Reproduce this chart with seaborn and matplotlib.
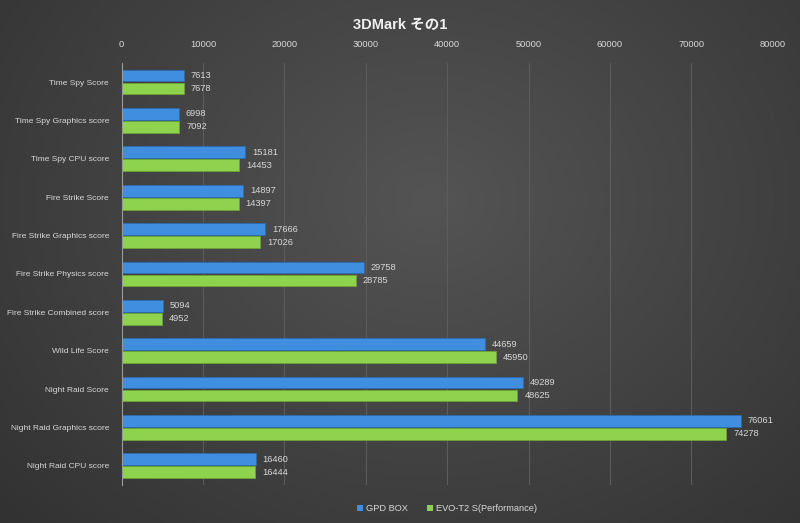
import numpy as np
import pandas as pd
import matplotlib
matplotlib.use("Agg")
import matplotlib.pyplot as plt
import seaborn as sns

categories = [
    "Time Spy Score", "Time Spy Graphics score", "Time Spy CPU score",
    "Fire Strike Score", "Fire Strike Graphics score", "Fire Strike Physics score",
    "Fire Strike Combined score", "Wild Life Score", "Night Raid Score",
    "Night Raid Graphics score", "Night Raid CPU score",
]
gpd_box = [7613, 6998, 15181, 14897, 17666, 29758, 5094, 44659, 49289, 76061, 16460]
evo_t2 = [7678, 7092, 14453, 14397, 17026, 28785, 4952, 45950, 48625, 74278, 16444]
series_names = ["GPD BOX", "EVO-T2 S(Performance)"]
x_ticks = [0, 10000, 20000, 30000, 40000, 50000, 60000, 70000, 80000]

df = pd.DataFrame({
    "category": categories * 2,
    "value": gpd_box + evo_t2,
    "series": [series_names[0]] * len(categories) + [series_names[1]] * len(categories),
})

sns.set_theme(style="dark")
FONT = ["Liberation Sans", "DejaVu Sans", "Noto Sans CJK JP"]
plt.rcParams["font.family"] = FONT
FS = 6.4

fig = plt.figure(figsize=(8, 5.23), dpi=100)

# background radial gradient
bg = fig.add_axes([0, 0, 1, 1], zorder=-10)
yy, xx = np.mgrid[0:523, 0:800]
r = np.sqrt(((xx - 430) / 520.0) ** 2 + ((yy - 200) / 420.0) ** 2)
val = np.clip(0.33 - 0.12 * r, 0.19, 0.33)
bg.imshow(np.dstack([val, val, val]), aspect="auto", extent=[0, 1, 0, 1])
bg.axis("off")

ax = fig.add_axes([0.152, 0.0727, 0.814, 0.807])
ax.set_facecolor("none")

palette = {series_names[0]: "#3f8ee0", series_names[1]: "#8fd24e"}
sns.barplot(data=df, y="category", x="value", hue="series", orient="h",
            palette=palette, width=0.68, gap=0.1, ax=ax, legend=True,
            edgecolor="none", saturation=1)

edge_cols = ["#2d6bb0", "#6aa536"]
for cont, ec in zip(ax.containers, edge_cols):
    for patch in cont.patches:
        patch.set_edgecolor(ec)
        patch.set_linewidth(0.6)
    ax.bar_label(cont, padding=5, color="#d8d8d8", fontsize=FS + 0.3)

ax.set_xlim(0, 80000)
ax.set_xticks(x_ticks)
ax.set_xticklabels([str(t) for t in x_ticks])
ax.xaxis.tick_top()
ax.tick_params(axis="x", colors="#d0d0d0", labelsize=FS + 0.3, length=0, pad=10)
ax.tick_params(axis="y", colors="#d0d0d0", labelsize=6.0, length=0, pad=9)
for lab in ax.get_xticklabels() + ax.get_yticklabels():
    lab.set_color("#d8d8d8")
ax.set_xlabel("")
ax.set_ylabel("")
ax.grid(axis="x", color="#5c5c5c", linewidth=0.8)
ax.grid(axis="y", visible=False)
ax.set_axisbelow(True)
for s in ["top", "right", "bottom"]:
    ax.spines[s].set_visible(False)
ax.spines["left"].set_color("#9a9a9a")
ax.spines["left"].set_linewidth(0.8)

leg = ax.legend(loc="upper center", bbox_to_anchor=(0.5, -0.025), ncol=2,
                frameon=False, fontsize=FS + 0.3, handlelength=0.6, handleheight=0.6,
                handletextpad=0.4, columnspacing=2.0)
for t in leg.get_texts():
    t.set_color("#d8d8d8")

fig.text(0.5, 0.952, "3DMark その1", ha="center", va="center", fontsize=10.5,
         fontweight="bold", color="#f0f0f0", family=FONT)

fig.savefig("out.png", dpi=100)
